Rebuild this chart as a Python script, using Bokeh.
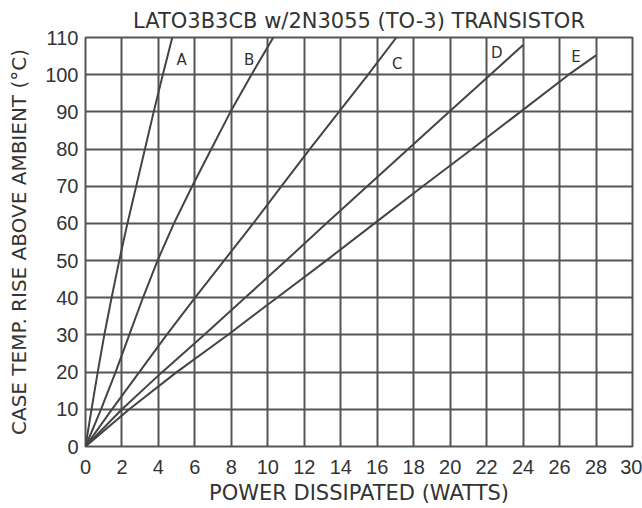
from bokeh.plotting import figure
from bokeh.models import FixedTicker, Range1d, ColumnDataSource
from bokeh.core.properties import value
from bokeh.embed import file_html
from bokeh.resources import INLINE

# Temperature rise values (°C) and power (W)
temp_a = [0, 10, 20, 30, 40, 50, 60, 70, 80, 90, 100, 110]
power_a = [0, 0.33, 0.67, 1.03, 1.43, 1.85, 2.3, 2.78, 3.26, 3.74, 4.24, 4.76]

temp_b = [0, 10, 20, 30, 40, 50, 60, 70, 80, 90, 100, 110]
power_b = [0, 0.85, 1.65, 2.4, 3.15, 3.95, 4.85, 5.85, 6.9, 7.95, 9.1, 10.3]

temp_c = [0, 10, 20, 30, 40, 50, 60, 70, 80, 90, 100, 110]
power_c = [0, 1.45, 2.95, 4.45, 6.0, 7.6, 9.2, 10.75, 12.3, 13.9, 15.5, 17.05]

temp_d = [0, 10, 20, 30, 40, 50, 60, 70, 80, 90, 100, 108]
power_d = [0, 2.0, 4.2, 6.5, 8.75, 11.0, 13.2, 15.45, 17.7, 19.95, 22.2, 24.0]

temp_e = [0, 10, 20, 30, 40, 50, 60, 70, 80, 90, 100, 105.2]
power_e = [0, 2.4, 5.0, 7.8, 10.5, 13.2, 15.85, 18.5, 21.2, 23.85, 26.5, 28.0]

curve_labels = ["A", "B", "C", "D", "E"]
label_power = [5.27, 8.98, 17.1, 22.55, 26.9]
label_temp = [103.9, 103.9, 103.0, 105.7, 104.8]

x_ticks = list(range(0, 31, 2))
y_ticks = list(range(0, 111, 10))

FONT = "Liberation Sans"
WIDE = "DejaVu Sans"
INK = "#333333"
GRID = "#555555"

p = figure(width=642, height=508,
           x_range=Range1d(0, 30), y_range=Range1d(0, 110),
           output_backend="svg", toolbar_location=None,
           min_border_left=85, min_border_right=10,
           min_border_top=37, min_border_bottom=62)

p.title.text = "LATO3B3CB w/2N3055 (TO-3) TRANSISTOR"
p.title.align = "center"
p.title.text_font = WIDE
p.title.text_font_size = "21px"
p.title.text_font_style = "normal"
p.title.text_color = INK
p.title.standoff = 9

p.outline_line_color = GRID
p.outline_line_width = 2
p.background_fill_color = "white"
p.border_fill_color = "white"

p.xaxis.ticker = FixedTicker(ticks=x_ticks)
p.yaxis.ticker = FixedTicker(ticks=y_ticks)
p.xgrid.ticker = FixedTicker(ticks=x_ticks)
p.ygrid.ticker = FixedTicker(ticks=y_ticks)

for g in (p.xgrid, p.ygrid):
    g.grid_line_color = GRID
    g.grid_line_width = 2
    g.grid_line_alpha = 1.0

for ax in (p.xaxis, p.yaxis):
    ax.axis_line_color = None
    ax.major_tick_line_color = None
    ax.minor_tick_line_color = None
    ax.major_tick_out = 0
    ax.major_tick_in = 0
    ax.minor_tick_out = 0
    ax.major_label_text_font = FONT
    ax.major_label_text_font_size = "20px"
    ax.major_label_text_color = INK
    ax.axis_label_text_font = WIDE
    ax.axis_label_text_font_style = "normal"
    ax.axis_label_text_color = INK

p.xaxis.axis_label_text_font_size = "21px"
p.yaxis.axis_label_text_font_size = "20px"
p.xaxis.axis_label = "POWER DISSIPATED (WATTS)"
p.yaxis.axis_label = "CASE TEMP. RISE ABOVE AMBIENT (°C)"
p.xaxis.major_label_standoff = 13
p.xaxis.axis_label_standoff = 4
p.yaxis.major_label_standoff = 7
p.yaxis.axis_label_standoff = 11

for xs, ys in ((power_a, temp_a), (power_b, temp_b), (power_c, temp_c),
               (power_d, temp_d), (power_e, temp_e)):
    p.line(xs, ys, line_color="#444444", line_width=2)

src = ColumnDataSource(dict(x=label_power, y=label_temp, t=curve_labels))
p.text(x="x", y="y", text="t", source=src,
       text_font=value(WIDE), text_font_size="15px",
       text_align="center", text_baseline="middle", text_color=INK)

open("out.html", "w").write(file_html(p, INLINE))
